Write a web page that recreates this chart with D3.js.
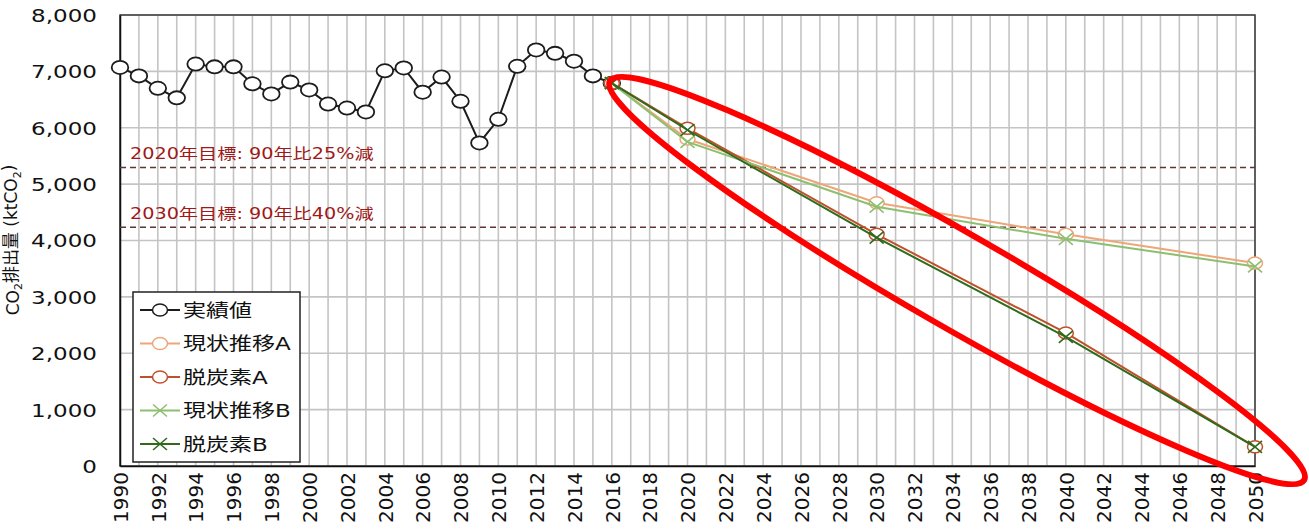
<!DOCTYPE html>
<html>
<head>
<meta charset="utf-8">
<script src="https://cdn.jsdelivr.net/npm/d3@7"></script>
<style>
  body { margin: 0; background: #fff; }
  text { font-family: "DejaVu Sans", "Noto Sans CJK JP", sans-serif; }
</style>
</head>
<body>
<div id="chart"></div>
<script>
// actual emissions (ktCO2)
var actualYears = [1990, 1991, 1992, 1993, 1994, 1995, 1996, 1997, 1998, 1999,
  2000, 2001, 2002, 2003, 2004, 2005, 2006, 2007, 2008, 2009,
  2010, 2011, 2012, 2013, 2014, 2015, 2016];
var actualValues = [7070, 6920, 6700, 6530, 7130, 7080, 7080, 6780, 6600, 6810,
  6670, 6420, 6350, 6280, 7010, 7060, 6630, 6900, 6470, 5730,
  6150, 7090, 7380, 7320, 7180, 6920, 6790];

// scenarios
var scenarioYears = [2016, 2020, 2030, 2040, 2050];
var bauA = [6790, 5800, 4670, 4110, 3600];
var decarbA = [6790, 5990, 4110, 2360, 340];
var bauB = [6790, 5750, 4600, 4030, 3540];
var decarbB = [6790, 5960, 4050, 2290, 340];

var seriesNames = ["実績値", "現状推移A", "脱炭素A", "現状推移B", "脱炭素B"];

// target lines
var targetValues = [5295, 4236];
var targetLabels = ["2020年目標: 90年比25%減", "2030年目標: 90年比40%減"];

var yTicks = [0, 1000, 2000, 3000, 4000, 5000, 6000, 7000, 8000];
var xTickYears = d3.range(1990, 2051, 2);
var gridYears = d3.range(1990, 2051, 1);

var svgWidth = 1309;
var svgHeight = 530;
var margin = { top: 15, right: 54, bottom: 64, left: 120 };
var width = svgWidth - margin.left - margin.right;
var height = svgHeight - margin.top - margin.bottom;
var stretch = 1.28; // text in the picture is drawn wide

var svg = d3.select("#chart")
  .append("svg")
  .attr("width", svgWidth)
  .attr("height", svgHeight);

var chartGroup = svg.append("g")
  .attr("transform", `translate(${margin.left}, ${margin.top})`);

var xScale = d3.scaleLinear().domain([1990, 2050]).range([0, width]);
var yScale = d3.scaleLinear().domain([0, 8000]).range([height, 0]);

// grid
chartGroup.append("g").selectAll("line")
  .data(gridYears)
  .enter()
  .append("line")
  .attr("x1", d => xScale(d)).attr("x2", d => xScale(d))
  .attr("y1", 0).attr("y2", height)
  .attr("stroke", "#c4c4c4")
  .attr("stroke-width", 1.6);

chartGroup.append("g").selectAll("line")
  .data(yTicks)
  .enter()
  .append("line")
  .attr("x1", 0).attr("x2", width)
  .attr("y1", d => yScale(d)).attr("y2", d => yScale(d))
  .attr("stroke", "#c4c4c4")
  .attr("stroke-width", 1.6);

// plot border
chartGroup.append("rect")
  .attr("width", width).attr("height", height)
  .attr("fill", "none")
  .attr("stroke", "#3a3a3a")
  .attr("stroke-width", 1.5);

// axes
var leftAxis = d3.axisLeft(yScale).tickValues(yTicks).tickSize(0).tickFormat(d3.format(","));
var yAxis = chartGroup.append("g").call(leftAxis);
yAxis.select(".domain").attr("stroke", "#111").attr("stroke-width", 1.5);
yAxis.selectAll("text")
  .attr("x", -23 / stretch)
  .attr("dy", "0.36em")
  .attr("transform", `scale(${stretch},1)`)
  .style("font-size", "18px")
  .attr("fill", "#111");

var bottomAxis = d3.axisBottom(xScale).tickValues(xTickYears).tickSize(0).tickFormat(d3.format("d"));
var xAxis = chartGroup.append("g")
  .attr("transform", `translate(0, ${height})`)
  .call(bottomAxis);
xAxis.select(".domain").attr("stroke", "#111").attr("stroke-width", 1.5);
xAxis.selectAll("text")
  .attr("transform", "rotate(-90)")
  .attr("x", -6)
  .attr("y", 0)
  .attr("dy", "0.36em")
  .style("text-anchor", "end")
  .style("font-size", "20px")
  .attr("fill", "#111");

// axis title
var yTitle = svg.append("text")
  .attr("transform", `translate(19, 240) rotate(-90)`)
  .attr("text-anchor", "middle")
  .style("font-size", "17px")
  .attr("fill", "#111");
yTitle.append("tspan").text("CO");
yTitle.append("tspan").text("2").attr("dy", "0.3em").style("font-size", "11px");
yTitle.append("tspan").text("排出量 (ktCO").attr("dy", "-0.3em");
yTitle.append("tspan").text("2").attr("dy", "0.3em").style("font-size", "11px");
yTitle.append("tspan").text(")").attr("dy", "-0.3em");

// target lines
targetValues.forEach(function(v, i) {
  chartGroup.append("line")
    .attr("x1", 0).attr("x2", width)
    .attr("y1", yScale(v)).attr("y2", yScale(v))
    .attr("stroke", "#5e3434")
    .attr("stroke-width", 1.6)
    .attr("stroke-dasharray", "6,4");
  chartGroup.append("text")
    .attr("transform", `translate(10, ${yScale(v) - 8}) scale(${stretch},1)`)
    .style("font-size", "15px")
    .attr("fill", "#a01818")
    .text(targetLabels[i]);
});

// series
var seriesList = [
  { name: seriesNames[0], years: actualYears, values: actualValues, color: "#1c1c1c", marker: "circle" },
  { name: seriesNames[1], years: scenarioYears, values: bauA, color: "#eea678", marker: "circle" },
  { name: seriesNames[2], years: scenarioYears, values: decarbA, color: "#c0502a", marker: "circle" },
  { name: seriesNames[3], years: scenarioYears, values: bauB, color: "#8cc070", marker: "cross" },
  { name: seriesNames[4], years: scenarioYears, values: decarbB, color: "#2f6b1c", marker: "cross" }
];

var line = d3.line()
  .x(d => xScale(d.year))
  .y(d => yScale(d.value));

function drawMarker(g, s, big) {
  if (s.marker === "circle") {
    g.append("ellipse")
      .attr("rx", big ? 8.3 : 7.5)
      .attr("ry", big ? 6.6 : 6)
      .attr("fill", "#fff")
      .attr("stroke", s.color)
      .attr("stroke-width", big ? 1.8 : 1.5);
  } else {
    g.append("path")
      .attr("d", "M-7,-6L7,6M-7,6L7,-6")
      .attr("stroke", s.color)
      .attr("stroke-width", 1.6)
      .attr("fill", "none");
  }
}

seriesList.forEach(function(s, i) {
  var pts = s.years.map((yr, k) => ({ year: yr, value: s.values[k] }));
  chartGroup.append("path")
    .datum(pts)
    .attr("d", line)
    .attr("fill", "none")
    .attr("stroke", s.color)
    .attr("stroke-width", 2);
  chartGroup.append("g").selectAll("g")
    .data(pts)
    .enter()
    .append("g")
    .attr("transform", d => `translate(${xScale(d.year)}, ${yScale(d.value)})`)
    .each(function() { drawMarker(d3.select(this), s, i === 0); });
});

// legend
var legend = svg.append("g").attr("transform", "translate(133, 292)");
legend.append("rect")
  .attr("width", 167).attr("height", 170)
  .attr("fill", "#fff")
  .attr("stroke", "#222")
  .attr("stroke-width", 1.5);
seriesList.forEach(function(s, i) {
  var row = legend.append("g").attr("transform", `translate(0, ${18 + i * 33.5})`);
  row.append("line")
    .attr("x1", 7).attr("x2", 47)
    .attr("stroke", s.color)
    .attr("stroke-width", 2);
  drawMarker(row.append("g").attr("transform", "translate(27,0)"), s, false);
  row.append("text")
    .attr("transform", `translate(50, 6.5) scale(${stretch},1)`)
    .style("font-size", "18px")
    .attr("fill", "#111")
    .text(s.name);
});

// red highlight ellipse (tips given in chart units)
var tipA = [2015.9, 6830];
var tipB = [2052.6, -250];
var ax = margin.left + xScale(tipA[0]), ay = margin.top + yScale(tipA[1]);
var bx = margin.left + xScale(tipB[0]), by = margin.top + yScale(tipB[1]);
var angle = Math.atan2(by - ay, bx - ax) * 180 / Math.PI;
svg.append("ellipse")
  .attr("transform", `translate(${(ax + bx) / 2}, ${(ay + by) / 2}) rotate(${angle})`)
  .attr("rx", Math.hypot(bx - ax, by - ay) / 2)
  .attr("ry", 47)
  .attr("fill", "none")
  .attr("stroke", "#ff0000")
  .attr("stroke-width", 6);
</script>
</body>
</html>
